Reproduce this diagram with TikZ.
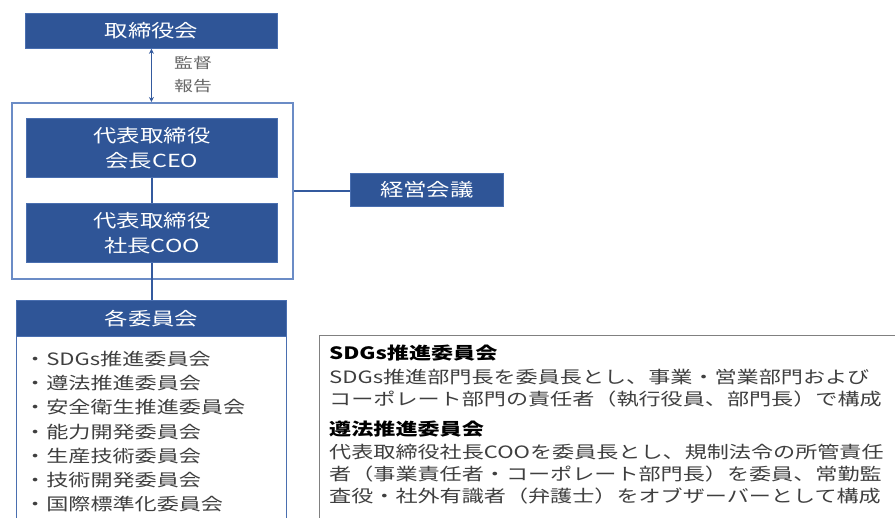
\documentclass[tikz,border=0pt]{standalone}
\usepackage{fontspec}
\newfontfamily\jp[FakeStretch=1.3]{Noto Sans CJK JP}
\usetikzlibrary{arrows.meta}
\definecolor{boxblue}{HTML}{2F5597}
\definecolor{boxedge}{HTML}{4A6FB0}
\definecolor{framecol}{HTML}{6B8CC6}
\definecolor{linkblue}{HTML}{345A9E}
\definecolor{textgray}{HTML}{3F3F3F}
\definecolor{lblgray}{HTML}{666666}
\begin{document}
\begin{tikzpicture}[x=1pt,y=-1pt,
  bluebox/.style={draw=boxedge, line width=0.8pt, fill=boxblue, text=white, inner sep=0pt,
    font=\jp\fontsize{18}{25}\selectfont, align=center, anchor=north west},
  link/.style={draw=linkblue, line width=1.8pt},
  plaintext/.style={inner sep=0pt, anchor=north west, align=left, text=textgray}]
\useasboundingbox (0,0) rectangle (895,518);
\fill[white] (0,0) rectangle (895,518);
% board
\node[bluebox, minimum width=252, minimum height=35] (board) at (25,13) {取締役会};
% frame around CEO/COO
\node[draw=framecol, line width=2pt, inner sep=0pt, minimum width=281, minimum height=176, anchor=north west] (frame) at (11,102) {};
\node[bluebox, minimum width=251, minimum height=59] (ceo) at (26,118) {代表取締役\\会長CEO};
\node[bluebox, minimum width=251, minimum height=59] (coo) at (26,203) {代表取締役\\社長COO};
\node[bluebox, minimum width=153, minimum height=33] (mtg) at (350,173) {経営会議};
% committees
\node[draw=boxedge, line width=1pt, inner sep=0pt, minimum width=270, minimum height=210, anchor=north west] (cmtbody) at (16,336) {};
\node[bluebox, minimum width=270, minimum height=36] (cmt) at (16,300) {各委員会};
\node[plaintext, font=\jp\fontsize{17}{24.2}\selectfont] (list) at (24,351)
  {・SDGs推進委員会\\・遵法推進委員会\\・安全衛生推進委員会\\・能力開発委員会\\・生産技術委員会\\・技術開発委員会\\・国際標準化委員会};
% description box
\node[draw=gray, line width=1.3pt, inner sep=0pt, minimum width=600, minimum height=210, anchor=north west] (desc) at (319,335) {};
\node[plaintext, font=\jp\fontsize{17}{22}\selectfont] (desctext) at (329,345)
  {{\bfseries\color{black}SDGs推進委員会}\\[1.5pt]
   SDGs推進部門長を委員長とし、事業・営業部門および\\
   コーポレート部門の責任者（執行役員、部門長）で構成\\[8pt]
   {\bfseries\color{black}遵法推進委員会}\\[1.5pt]
   代表取締役社長COOを委員長とし、規制法令の所管責任\\
   者（事業責任者・コーポレート部門長）を委員、常勤監\\
   査役・社外有識者（弁護士）をオブザーバーとして構成};
% connectors
\draw[link, {Stealth[length=5pt,width=5pt]}-{Stealth[length=5pt,width=5pt]}] (board.south) -- (board.south |- frame.north);
\node[inner sep=0pt, anchor=west, align=left, text=lblgray, font=\jp\fontsize{14.5}{23}\selectfont] (lbl) at (174,75) {監督\\報告};
\draw[link] (ceo.south) -- (coo.north);
\draw[link] (coo.south) -- (coo.south |- cmt.north);
\draw[link] (frame.east) -- (frame.east -| mtg.west);
\end{tikzpicture}
\end{document}
